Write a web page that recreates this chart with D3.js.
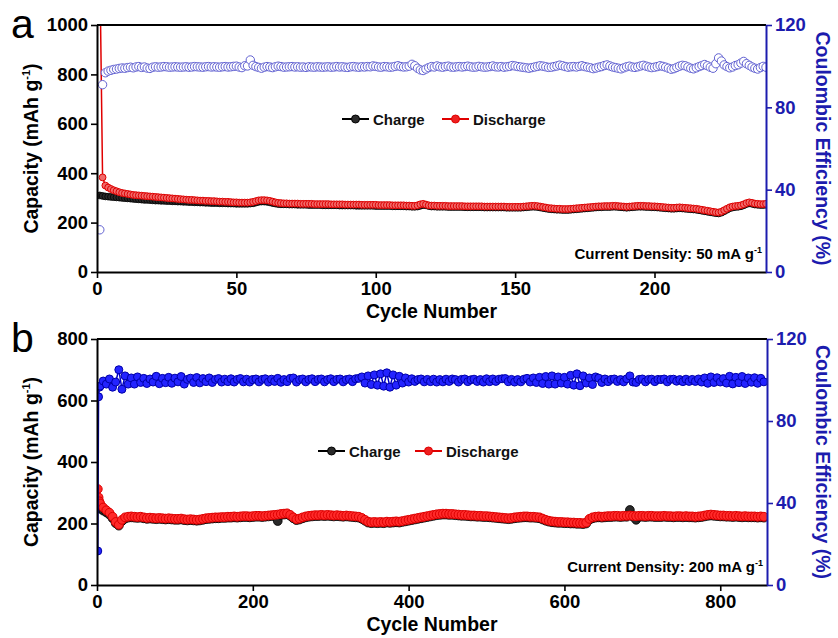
<!DOCTYPE html>
<html>
<head>
<meta charset="utf-8">
<title>cycling</title>
<script src="https://d3js.org/d3.v7.min.js"></script>
<style>
body { margin: 0; background: #fff; }
svg { display: block; }
text { font-family: "Liberation Sans", Arial, sans-serif; font-weight: bold; }
</style>
</head>
<body>
<script>
// ---- panel a : 50 mA g-1, every cycle ----
var cyclesA = d3.range(1, 241);
var dischargeA = [
  1250, 383, 350, 342, 336, 331, 327, 323, 320, 318,
  316, 314, 312, 311, 310, 309, 308, 307, 306, 305,
  304, 303, 302, 301, 300, 299, 298, 297, 296, 295,
  294, 293, 292, 292, 291, 290, 289, 289, 288, 288,
  287, 287, 286, 285, 285, 284, 284, 283, 282, 282,
  281, 281, 281, 281, 282, 284, 287, 290, 291, 291,
  290, 288, 285, 282, 280, 279, 278, 278, 277, 277,
  277, 277, 276, 276, 276, 276, 276, 275, 275, 275,
  275, 275, 275, 274, 274, 274, 274, 274, 273, 273,
  273, 273, 273, 273, 272, 272, 272, 272, 272, 272,
  271, 271, 271, 271, 271, 270, 270, 270, 270, 270,
  269, 269, 268, 268, 270, 274, 276, 273, 270, 269,
  269, 268, 268, 268, 268, 267, 267, 267, 267, 267,
  267, 266, 266, 266, 266, 266, 266, 266, 265, 265,
  265, 265, 265, 265, 265, 265, 264, 264, 264, 264,
  264, 264, 265, 266, 267, 268, 268, 267, 265, 263,
  261, 259, 258, 257, 256, 256, 255, 255, 255, 256,
  257, 258, 259, 260, 261, 262, 263, 264, 265, 266,
  266, 267, 267, 267, 268, 268, 267, 266, 265, 264,
  265, 266, 267, 268, 268, 268, 267, 267, 266, 266,
  265, 264, 263, 262, 261, 260, 260, 261, 262, 261,
  260, 259, 258, 257, 256, 254, 252, 250, 248, 246,
  244, 242, 241, 244, 250, 256, 262, 265, 267, 268,
  270, 274, 279, 282, 280, 277, 276, 275, 275, 276
];
var chargeA = [
  310, 308, 306, 305, 304, 303, 302, 301, 300, 299,
  298, 297, 296, 295, 294, 293, 292, 292, 291, 290,
  289, 289, 288, 288, 287, 287, 286, 286, 285, 285,
  284, 284, 283, 283, 282, 282, 281, 281, 280, 280,
  279, 279, 279, 278, 278, 278, 277, 277, 277, 276,
  276, 276, 276, 276, 277, 278, 281, 284, 285, 285,
  284, 282, 279, 277, 275, 274, 274, 274, 273, 273,
  273, 272, 272, 272, 272, 271, 271, 271, 271, 271,
  270, 270, 270, 270, 270, 270, 269, 269, 269, 269,
  269, 269, 268, 268, 268, 268, 268, 268, 268, 267,
  267, 267, 267, 267, 267, 266, 266, 266, 266, 266,
  265, 265, 264, 264, 265, 268, 271, 270, 267, 265,
  265, 264, 264, 264, 264, 263, 263, 263, 263, 263,
  263, 262, 262, 262, 262, 262, 262, 262, 261, 261,
  261, 261, 261, 261, 261, 261, 260, 260, 260, 260,
  260, 260, 261, 262, 263, 264, 264, 263, 261, 259,
  257, 255, 254, 253, 252, 252, 251, 251, 251, 252,
  253, 254, 255, 256, 257, 258, 259, 260, 261, 262,
  262, 263, 263, 263, 264, 264, 263, 262, 261, 260,
  261, 262, 263, 264, 264, 264, 263, 263, 262, 262,
  261, 260, 259, 258, 257, 256, 256, 257, 258, 257,
  256, 255, 254, 253, 252, 250, 248, 246, 244, 242,
  240, 238, 237, 240, 246, 252, 258, 261, 263, 264,
  266, 270, 275, 278, 276, 273, 272, 271, 271, 272
];
var ceA = [
  20.5, 91, 96.8, 97.6, 98.0, 98.4, 98.6, 98.9, 99.1, 99.0,
  99.3, 99.5, 99.2, 99.6, 99.8, 99.4, 99.6, 99.1, 98.9, 99.5,
  99.7, 99.5, 99.6, 99.8, 99.7, 99.5, 99.6, 99.7, 99.6, 99.5,
  99.6, 99.7, 99.5, 99.6, 99.8, 99.7, 99.6, 99.5, 99.7, 99.8,
  99.6, 99.7, 99.6, 99.5, 99.7, 99.8, 99.6, 99.7, 99.9, 100.0,
  99.6, 99.3, 100.2, 100.1, 103.0, 100.4, 99.8, 99.4, 99.0, 99.5,
  99.8, 99.6, 99.3, 99.7, 100.0, 99.8, 99.5, 99.6, 99.7, 99.8,
  99.6, 99.7, 99.5, 99.6, 99.4, 99.7, 99.6, 99.5, 99.7, 99.6,
  99.5, 99.6, 99.7, 99.5, 99.6, 99.8, 99.6, 99.7, 99.5, 99.4,
  99.7, 99.8, 99.6, 99.5, 99.7, 99.6, 99.8, 99.7, 100.1, 99.9,
  99.6, 99.5, 99.8, 99.7, 99.5, 99.6, 99.9, 100.2, 99.8, 99.6,
  99.7, 100.0, 100.9, 100.2, 99.0, 98.2, 97.9, 98.6, 99.3, 99.8,
  99.6, 100.1, 99.7, 99.5, 99.8, 100.0, 99.6, 99.5, 99.7, 99.8,
  99.6, 99.8, 100.0, 99.7, 99.5, 99.6, 99.9, 99.7, 99.5, 99.6,
  99.8, 100.1, 99.7, 99.6, 99.8, 99.5, 99.7, 99.9, 100.3, 100.1,
  99.8, 99.6, 99.4, 99.2, 99.0, 99.3, 99.6, 99.9, 100.2, 100.0,
  99.7, 99.4, 99.5, 99.8, 100.1, 100.5, 100.2, 99.8, 99.5, 99.7,
  99.8, 99.6, 99.9, 100.2, 99.8, 99.5, 99.2, 98.8, 99.1, 99.5,
  99.8, 100.3, 100.6, 100.1, 99.6, 99.3, 99.0, 98.7, 99.2, 99.7,
  100.0, 99.6, 99.4, 99.7, 100.1, 100.4, 100.0, 99.6, 99.3, 99.5,
  99.8, 100.2, 99.9, 99.5, 99.0, 98.5, 98.8, 99.4, 100.0, 100.4,
  100.2, 99.6, 99.0, 98.7, 99.2, 99.8, 100.3, 100.8, 100.2, 99.5,
  99.0, 101.2, 104.0, 102.5, 100.6, 99.8, 99.2, 99.6, 100.3, 100.7,
  101.5, 102.3, 101.2, 100.4, 99.6, 99.0, 98.6, 99.3, 99.9, 99.5
];

// ---- panel b : 200 mA g-1, cycles 1-3 then every 4th cycle ----
var cyclesB = [1, 2, 3].concat(d3.range(4, 857, 4));
var dischargeB = [
  312, 285, 272,
  265, 252, 243, 235, 222, 205, 196, 212, 220, 222,
  223, 222, 221, 222, 220, 218, 219, 218, 217, 218,
  217, 216, 217, 216, 215, 215, 216, 214, 213, 214,
  213, 212, 213, 215, 217, 218, 219, 220, 220, 221,
  221, 222, 222, 223, 222, 223, 224, 224, 223, 224,
  225, 225, 224, 225, 226, 227, 228, 229, 231, 232,
  233, 228, 220, 214, 216, 220, 223, 225, 226, 227,
  227, 228, 227, 228, 227, 226, 227, 226, 225, 226,
  225, 224, 223, 222, 218, 212, 206, 204, 205, 204,
  205, 204, 206, 205, 206, 207, 206, 208, 210, 212,
  214, 216, 218, 220, 222, 224, 226, 228, 230, 231,
  232, 232, 231, 231, 230, 229, 228, 228, 227, 226,
  226, 225, 225, 224, 224, 223, 222, 221, 220, 219,
  218, 217, 218, 220, 221, 222, 223, 223, 222, 222,
  221, 220, 216, 212, 209, 207, 206, 205, 205, 204,
  204, 203, 203, 202, 202, 201, 203, 215, 220, 222,
  223, 222, 223, 224, 224, 225, 225, 224, 225, 225,
  226, 225, 224, 225, 225, 224, 225, 225, 224, 224,
  224, 225, 224, 224, 223, 224, 224, 223, 224, 223,
  223, 222, 223, 224, 226, 228, 229, 228, 227, 226,
  226, 225, 225, 224, 225, 224, 223, 224, 223, 223,
  223, 222, 223, 222
];
var chargeB = [
  250, 256, 252,
  248, 242, 236, 229, 217, 201, 193, 208, 216, 219,
  220, 219, 218, 219, 217, 215, 216, 215, 214, 215,
  214, 213, 214, 213, 212, 212, 213, 211, 210, 211,
  210, 209, 210, 212, 214, 215, 216, 217, 217, 218,
  218, 219, 219, 220, 219, 220, 221, 221, 220, 221,
  222, 222, 221, 222, 223, 224, 225, 208, 228, 229,
  230, 225, 217, 211, 213, 217, 220, 222, 223, 224,
  224, 225, 224, 225, 224, 223, 224, 223, 222, 223,
  222, 221, 220, 219, 215, 209, 203, 201, 202, 201,
  202, 201, 203, 202, 203, 204, 203, 205, 207, 209,
  211, 213, 215, 217, 219, 221, 223, 225, 227, 228,
  229, 229, 228, 228, 227, 226, 225, 225, 224, 223,
  223, 222, 222, 221, 221, 220, 219, 218, 217, 216,
  215, 214, 215, 217, 218, 219, 220, 220, 219, 219,
  218, 217, 213, 209, 206, 204, 203, 202, 202, 201,
  201, 200, 200, 199, 199, 198, 200, 212, 217, 219,
  220, 219, 220, 221, 221, 222, 222, 221, 222, 222,
  244, 222, 212, 222, 222, 221, 222, 222, 221, 221,
  221, 222, 221, 221, 220, 221, 221, 220, 221, 220,
  220, 219, 220, 221, 223, 225, 226, 225, 224, 223,
  223, 222, 222, 221, 222, 221, 220, 221, 220, 220,
  220, 219, 220, 219
];
var ceB = [
  16.6, 91.8, 96.5,
  97.0, 99.5, 98.0, 100.5, 96.5, 99.0, 105.0, 95.5, 102.0, 98.0,
  101.0, 98.0, 101.5, 98.8, 100.8, 98.3, 100.5, 99.0, 101.8, 98.2,
  100.8, 98.7, 101.3, 98.4, 100.9, 99.1, 101.7, 98.0, 100.3, 100.9,
  98.8, 101.2, 98.6, 100.7, 99.2, 101.0, 98.8, 100.3, 100.7, 99.0,
  100.4, 99.2, 100.6, 99.0, 100.3, 100.7, 99.1, 100.4, 99.0, 100.2,
  100.5, 99.1, 100.3, 100.6, 99.0, 100.4, 99.3, 100.8, 98.9, 100.2,
  99.2, 100.8, 101.0, 99.0, 100.2, 100.5, 99.1, 100.3, 100.6, 99.2,
  100.3, 100.5, 99.1, 100.2, 100.6, 99.2, 100.3, 100.5, 99.1, 100.2,
  100.5, 99.2, 100.6, 100.8, 101.5, 98.5, 102.0, 97.8, 102.5, 97.5,
  103.0, 97.0, 103.5, 96.5, 102.5, 97.5, 101.8, 98.5, 101.0, 99.0,
  100.6, 99.3, 100.2, 100.5, 99.1, 100.3, 99.2, 100.4, 99.0, 100.2,
  99.1, 100.4, 99.3, 100.5, 100.2, 99.0, 100.3, 100.5, 99.2, 100.1,
  100.4, 99.3, 100.2, 99.0, 100.6, 99.2, 100.5, 99.3, 100.4, 100.6,
  100.7, 99.2, 100.3, 99.0, 100.2, 99.1, 100.4, 100.8, 99.0, 101.0,
  98.8, 101.3, 98.3, 101.7, 98.0, 102.0, 98.0, 101.5, 98.5, 101.3,
  98.0, 102.3, 97.5, 103.0, 97.2, 102.0, 98.5, 101.0, 97.8, 101.5,
  100.9, 98.8, 100.5, 99.2, 100.3, 100.5, 99.3, 100.2, 99.1, 100.6,
  102.0, 99.0, 98.8, 100.3, 100.5, 99.1, 100.3, 100.4, 99.2, 100.3,
  100.2, 100.5, 99.1, 100.3, 100.4, 99.4, 100.2, 99.2, 100.4, 99.3,
  100.3, 99.3, 100.5, 99.0, 101.0, 98.4, 101.5, 98.8, 101.1, 99.0,
  100.7, 98.5, 101.8, 98.1, 101.3, 98.7, 101.7, 98.3, 101.0, 98.9,
  101.1, 98.4, 100.8, 99.1
];

// tick values
var capTicksA = [0, 200, 400, 600, 800, 1000];
var capMinorA = [100, 300, 500, 700, 900];
var capTicksB = [0, 200, 400, 600, 800];
var capMinorB = [100, 300, 500, 700];
var ceTicks = [0, 40, 80, 120];
var ceMinor = [20, 60, 100];
var cycleTicksA = [0, 50, 100, 150, 200];
var cycleMinorA = [25, 75, 125, 175, 225];
var cycleTicksB = [0, 200, 400, 600, 800];
var cycleMinorB = [100, 300, 500, 700];

var blue = "#1c1cae";
var fmt = d3.format("d");

var svg = d3.select("body").append("svg")
  .attr("width", 838).attr("height", 638);

function styleAxis(g, color, size) {
  g.attr("font-family", null).attr("font-size", null);
  g.select(".domain").attr("stroke", color).attr("stroke-width", 2);
  g.selectAll(".tick line").attr("stroke", color).attr("stroke-width", 1.6);
  g.selectAll(".tick text").attr("fill", color).style("font-size", size + "px");
}

function drawPanel(p) {
  var x = d3.scaleLinear().domain([0, p.xMax]).range([p.left, p.right]);
  var y = d3.scaleLinear().domain([0, p.yMax]).range([p.bottom, p.top]);
  var y2 = d3.scaleLinear().domain([0, 120]).range([p.bottom, p.top]);

  var pts = p.cycles.map(function(c, i) {
    return { c: c, chg: p.charge[i], dis: p.discharge[i], ce: p.ce[i] };
  });

  svg.append("clipPath").attr("id", "clip" + p.id)
    .append("rect")
    .attr("x", p.left).attr("y", p.top - 1)
    .attr("width", p.right - p.left + 1).attr("height", p.bottom - p.top + 1);

  var plot = svg.append("g").attr("clip-path", "url(#clip" + p.id + ")");

  var lineChg = d3.line().x(function(d) { return x(d.c); }).y(function(d) { return y(d.chg); });
  var lineDis = d3.line().x(function(d) { return x(d.c); }).y(function(d) { return y(d.dis); });
  var lineCe = d3.line().x(function(d) { return x(d.c); }).y(function(d) { return y2(d.ce); });

  // charge
  plot.append("path").datum(pts).attr("d", lineChg)
    .attr("fill", "none").attr("stroke", "#000").attr("stroke-width", 1.5);
  plot.selectAll(".chg").data(pts).enter().append("circle")
    .attr("cx", function(d) { return x(d.c); })
    .attr("cy", function(d) { return y(d.chg); })
    .attr("r", p.r).attr("fill", "#2a2a2a").attr("stroke", "#000").attr("stroke-width", 0.8);

  // discharge
  plot.append("path").datum(pts).attr("d", lineDis)
    .attr("fill", "none").attr("stroke", "#e00000").attr("stroke-width", 1.5);
  plot.selectAll(".dis").data(pts).enter().append("circle")
    .attr("cx", function(d) { return x(d.c); })
    .attr("cy", function(d) { return y(d.dis); })
    .attr("r", p.r).attr("fill", p.disFill).attr("stroke", "#dd0000").attr("stroke-width", 1);

  // coulombic efficiency
  if (p.ceLine) {
    plot.append("path").datum(pts).attr("d", lineCe)
      .attr("fill", "none").attr("stroke", "#0000c8").attr("stroke-width", 1.5);
  }
  plot.selectAll(".ce").data(pts).enter().append("circle")
    .attr("cx", function(d) { return x(d.c); })
    .attr("cy", function(d) { return y2(d.ce); })
    .attr("r", p.ceR).attr("fill", p.ceFill).attr("stroke", p.ceStroke).attr("stroke-width", 1);

  // top frame
  svg.append("line")
    .attr("x1", p.left).attr("x2", p.right).attr("y1", p.top).attr("y2", p.top)
    .attr("stroke", "#000").attr("stroke-width", 2);

  // axes
  var gx = svg.append("g").attr("transform", "translate(0," + p.bottom + ")");
  gx.call(d3.axisBottom(x).tickValues(p.xMinor).tickSize(3).tickSizeOuter(0).tickFormat(""));
  gx.call(d3.axisBottom(x).tickValues(p.xTicks).tickSize(6).tickSizeOuter(0).tickPadding(4).tickFormat(fmt));
  styleAxis(gx, "#000", 18.5);

  var gy = svg.append("g").attr("transform", "translate(" + p.left + ",0)");
  gy.call(d3.axisLeft(y).tickValues(p.yMinor).tickSize(3).tickSizeOuter(0).tickFormat(""));
  gy.call(d3.axisLeft(y).tickValues(p.yTicks).tickSize(6).tickSizeOuter(0).tickPadding(3).tickFormat(fmt));
  styleAxis(gy, "#000", 18.5);

  var gr = svg.append("g").attr("transform", "translate(" + p.right + ",0)");
  gr.call(d3.axisRight(y2).tickValues(ceMinor).tickSize(3).tickSizeOuter(0).tickFormat(""));
  gr.call(d3.axisRight(y2).tickValues(ceTicks).tickSize(6).tickSizeOuter(0).tickPadding(3).tickFormat(fmt));
  styleAxis(gr, blue, 18.5);

  var midY = (p.top + p.bottom) / 2;

  // titles
  svg.append("text").attr("x", (p.left + p.right) / 2).attr("y", p.bottom + 46)
    .attr("text-anchor", "middle").style("font-size", "19.5px").text("Cycle Number");

  var yt = svg.append("text").attr("transform", "translate(38," + midY + ") rotate(-90)")
    .attr("text-anchor", "middle").style("font-size", "19.5px");
  yt.append("tspan").text("Capacity (mAh g");
  yt.append("tspan").attr("dy", -8).style("font-size", "11px").text("-1");
  yt.append("tspan").attr("dy", 8).text(")");

  svg.append("text").attr("transform", "translate(816," + midY + ") rotate(90)")
    .attr("text-anchor", "middle").attr("fill", blue).style("font-size", "19.5px")
    .text("Coulombic Efficiency (%)");

  svg.append("text").attr("x", 11).attr("y", p.letterY)
    .style("font-weight", "normal").style("font-size", "41px").text(p.letter);

  var cd = svg.append("text").attr("x", p.right - 4).attr("y", p.bottom - 13)
    .attr("text-anchor", "end").style("font-size", "15px");
  cd.append("tspan").text(p.density);
  cd.append("tspan").attr("dy", -6).style("font-size", "9px").text("-1");

  // legend
  var lg = svg.append("g").attr("transform", "translate(0," + p.legY + ")");
  [["Charge", "#000", "#2a2a2a", p.legX[0]], ["Discharge", "#e00000", "#ee2020", p.legX[1]]]
    .forEach(function(e) {
      lg.append("line").attr("x1", e[3]).attr("x2", e[3] + 27).attr("y1", 0).attr("y2", 0)
        .attr("stroke", e[1]).attr("stroke-width", 2);
      lg.append("circle").attr("cx", e[3] + 13.5).attr("cy", 0).attr("r", 4)
        .attr("fill", e[2]).attr("stroke", e[1]);
      lg.append("text").attr("x", e[3] + 31).attr("y", 5.5)
        .style("font-size", "15px").attr("fill", "#111").text(e[0]);
    });
}

drawPanel({
  id: "a", letter: "a", letterY: 38,
  left: 97, right: 766, top: 25, bottom: 272,
  xMax: 240, yMax: 1000,
  cycles: cyclesA, charge: chargeA, discharge: dischargeA, ce: ceA,
  xTicks: cycleTicksA, xMinor: cycleMinorA, yTicks: capTicksA, yMinor: capMinorA,
  r: 3.4, disFill: "#f26a6a", ceR: 4.2, ceFill: "#fff", ceStroke: "#6262d2", ceLine: false,
  density: "Current Density: 50 mA g",
  legY: 119, legX: [342, 442]
});

drawPanel({
  id: "b", letter: "b", letterY: 352,
  left: 97, right: 767, top: 339, bottom: 585,
  xMax: 860, yMax: 800,
  cycles: cyclesB, charge: chargeB, discharge: dischargeB, ce: ceB,
  xTicks: cycleTicksB, xMinor: cycleMinorB, yTicks: capTicksB, yMinor: capMinorB,
  r: 4.4, disFill: "#ff2a2a", ceR: 4, ceFill: "#2424ff", ceStroke: "#0000a8", ceLine: true,
  density: "Current Density: 200 mA g",
  legY: 451, legX: [318, 415]
});
</script>
</body>
</html>
